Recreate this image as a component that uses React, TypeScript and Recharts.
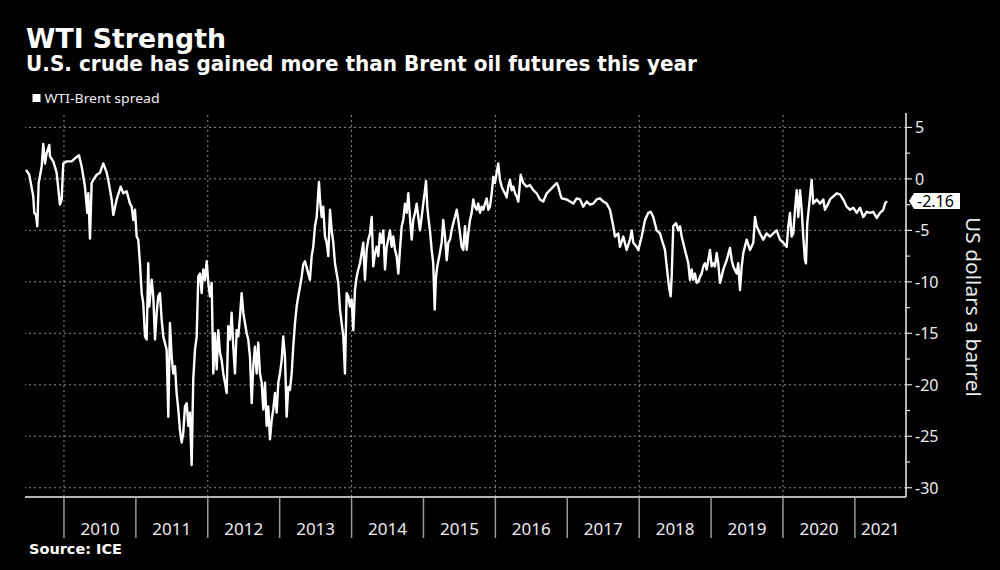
import React from 'react';
import { LineChart, Line, XAxis, YAxis, ReferenceLine } from 'recharts';

const dates = [
  2009.472, 2009.517, 2009.573, 2009.587, 2009.611, 2009.629, 2009.648, 2009.690, 2009.712, 2009.736,
  2009.759, 2009.796, 2009.805, 2009.851, 2009.898, 2009.944, 2009.968, 2009.990, 2010.038, 2010.107,
  2010.153, 2010.209, 2010.246, 2010.292, 2010.324, 2010.338, 2010.362, 2010.385, 2010.408, 2010.455,
  2010.501, 2010.547, 2010.594, 2010.616, 2010.663, 2010.686, 2010.733, 2010.789, 2010.825, 2010.872,
  2010.918, 2010.942, 2010.964, 2010.988, 2011.011, 2011.033, 2011.057, 2011.081, 2011.103, 2011.127,
  2011.150, 2011.172, 2011.186, 2011.220, 2011.242, 2011.266, 2011.289, 2011.312, 2011.335, 2011.359,
  2011.381, 2011.428, 2011.451, 2011.474, 2011.498, 2011.520, 2011.544, 2011.567, 2011.590, 2011.613,
  2011.637, 2011.659, 2011.683, 2011.707, 2011.729, 2011.752, 2011.776, 2011.798, 2011.822, 2011.846,
  2011.868, 2011.892, 2011.915, 2011.937, 2011.961, 2011.985, 2012.007, 2012.031, 2012.054, 2012.077,
  2012.100, 2012.124, 2012.146, 2012.170, 2012.193, 2012.216, 2012.239, 2012.263, 2012.285, 2012.309,
  2012.332, 2012.355, 2012.378, 2012.402, 2012.424, 2012.448, 2012.471, 2012.494, 2012.517, 2012.541,
  2012.563, 2012.587, 2012.611, 2012.633, 2012.656, 2012.680, 2012.702, 2012.726, 2012.750, 2012.772,
  2012.796, 2012.819, 2012.841, 2012.865, 2012.889, 2012.911, 2012.935, 2012.958, 2012.981, 2013.004,
  2013.028, 2013.050, 2013.074, 2013.097, 2013.120, 2013.143, 2013.167, 2013.189, 2013.213, 2013.236,
  2013.259, 2013.282, 2013.306, 2013.328, 2013.352, 2013.398, 2013.421, 2013.445, 2013.467, 2013.491,
  2013.515, 2013.547, 2013.561, 2013.584, 2013.606, 2013.630, 2013.654, 2013.676, 2013.700, 2013.723,
  2013.746, 2013.769, 2013.793, 2013.815, 2013.839, 2013.862, 2013.885, 2013.908, 2013.932, 2013.954,
  2013.978, 2014.001, 2014.024, 2014.047, 2014.071, 2014.093, 2014.117, 2014.163, 2014.186, 2014.210,
  2014.232, 2014.256, 2014.280, 2014.302, 2014.326, 2014.349, 2014.371, 2014.395, 2014.419, 2014.441,
  2014.465, 2014.488, 2014.510, 2014.534, 2014.558, 2014.580, 2014.604, 2014.627, 2014.650, 2014.673,
  2014.697, 2014.719, 2014.743, 2014.766, 2014.789, 2014.812, 2014.836, 2014.858, 2014.882, 2014.905,
  2014.928, 2014.951, 2014.975, 2014.997, 2015.021, 2015.035, 2015.053, 2015.067, 2015.090, 2015.114,
  2015.136, 2015.156, 2015.174, 2015.192, 2015.220, 2015.253, 2015.275, 2015.299, 2015.323, 2015.345,
  2015.369, 2015.392, 2015.414, 2015.438, 2015.462, 2015.484, 2015.508, 2015.531, 2015.554, 2015.577,
  2015.601, 2015.623, 2015.647, 2015.670, 2015.693, 2015.716, 2015.740, 2015.762, 2015.786, 2015.809,
  2015.832, 2015.855, 2015.879, 2015.901, 2015.925, 2015.949, 2015.971, 2015.994, 2016.018, 2016.040,
  2016.064, 2016.088, 2016.110, 2016.134, 2016.157, 2016.179, 2016.203, 2016.227, 2016.249, 2016.273,
  2016.296, 2016.319, 2016.352, 2016.388, 2016.435, 2016.481, 2016.527, 2016.574, 2016.620, 2016.666,
  2016.714, 2016.759, 2016.805, 2016.853, 2016.875, 2016.899, 2016.922, 2016.992, 2017.038, 2017.084,
  2017.131, 2017.177, 2017.223, 2017.270, 2017.316, 2017.362, 2017.409, 2017.455, 2017.501, 2017.548,
  2017.594, 2017.640, 2017.663, 2017.709, 2017.733, 2017.779, 2017.826, 2017.872, 2017.896, 2017.918,
  2017.965, 2017.988, 2018.035, 2018.081, 2018.127, 2018.160, 2018.196, 2018.243, 2018.289, 2018.327,
  2018.359, 2018.383, 2018.415, 2018.438, 2018.452, 2018.474, 2018.512, 2018.544, 2018.568, 2018.591,
  2018.637, 2018.683, 2018.707, 2018.730, 2018.752, 2018.776, 2018.800, 2018.822, 2018.846, 2018.869,
  2018.892, 2018.915, 2018.939, 2018.985, 2019.008, 2019.031, 2019.054, 2019.078, 2019.100, 2019.124,
  2019.147, 2019.170, 2019.217, 2019.263, 2019.287, 2019.309, 2019.356, 2019.378, 2019.402, 2019.426,
  2019.448, 2019.495, 2019.541, 2019.587, 2019.611, 2019.634, 2019.680, 2019.726, 2019.773, 2019.819,
  2019.865, 2019.912, 2019.958, 2020.004, 2020.052, 2020.074, 2020.097, 2020.121, 2020.143, 2020.167,
  2020.191, 2020.213, 2020.237, 2020.260, 2020.282, 2020.306, 2020.320, 2020.338, 2020.366, 2020.399,
  2020.421, 2020.469, 2020.515, 2020.561, 2020.584, 2020.630, 2020.654, 2020.700, 2020.747, 2020.793,
  2020.839, 2020.886, 2020.932, 2020.978, 2021.025, 2021.071, 2021.117, 2021.164, 2021.210, 2021.256,
  2021.303, 2021.349, 2021.395, 2021.419, 2021.446,
];

const spread = [
  0.87, 0.4, -1.7, -3.3, -3.5, -4.6, -0.4, 1.2, 3.4, 1.5,
  2.5, 3.3, 2.2, 1.7, 0.6, -2.5, -2.0, 1.5, 1.7, 1.7,
  2.0, 2.3, 1.2, -0.75, -3.3, -1.4, -5.8, -0.4, -0.1, 0.4,
  0.6, 1.5, 0.6, -0.1, -2.0, -3.5, -2.0, -0.75, -1.4, -1.2,
  -2.4, -2.7, -4.0, -3.0, -5.6, -5.9, -8.2, -11.1, -12.1, -15.3,
  -15.6, -8.2, -12.4, -9.8, -11.4, -15.6, -13.0, -11.4, -11.1, -13.7,
  -15.3, -16.6, -23.1, -14.0, -17.3, -18.9, -18.2, -20.8, -22.4, -24.4,
  -25.6, -24.7, -22.1, -21.8, -24.0, -22.7, -27.8, -19.5, -16.6, -15.3,
  -9.5, -9.2, -11.1, -8.8, -9.8, -8.0, -10.1, -11.4, -10.1, -18.9,
  -15.0, -18.5, -14.7, -16.9, -17.6, -18.9, -19.8, -20.8, -14.3, -15.6,
  -13.0, -16.3, -18.9, -14.7, -15.3, -13.4, -11.1, -13.0, -14.0, -15.0,
  -15.6, -17.3, -21.8, -18.2, -16.3, -18.9, -15.9, -18.9, -19.8, -22.4,
  -19.8, -24.0, -22.1, -25.3, -23.4, -22.4, -20.8, -22.7, -19.8, -18.9,
  -17.6, -15.3, -17.3, -23.1, -20.2, -20.5, -18.9, -16.3, -14.0, -12.4,
  -11.4, -10.5, -9.5, -8.3, -8.0, -9.2, -9.8, -7.5, -6.6, -4.6,
  -3.7, -0.3, -2.0, -3.7, -2.7, -5.6, -6.2, -7.5, -3.0, -5.0,
  -6.2, -8.2, -9.2, -10.1, -12.7, -14.0, -15.3, -18.9, -11.1, -11.4,
  -12.4, -11.7, -14.7, -10.8, -9.5, -8.8, -8.2, -6.2, -9.8, -6.9,
  -5.9, -5.3, -3.7, -8.5, -7.2, -6.6, -7.5, -5.3, -6.2, -5.0,
  -8.8, -6.6, -5.9, -5.0, -6.6, -5.6, -6.9, -7.5, -9.2, -6.9,
  -4.6, -4.0, -2.4, -3.3, -1.4, -3.7, -5.9, -4.0, -3.3, -2.4,
  -3.7, -5.0, -3.7, -2.4, -1.1, -0.2, -2.7, -3.7, -5.0, -6.9,
  -8.2, -12.7, -9.5, -8.5, -7.5, -6.2, -4.0, -5.6, -7.9, -6.2,
  -5.9, -5.0, -4.3, -3.7, -3.0, -4.0, -5.3, -6.6, -6.9, -4.6,
  -6.9, -5.3, -4.0, -3.3, -2.0, -2.7, -3.0, -2.4, -3.3, -2.7,
  -3.0, -2.4, -1.9, -3.0, -2.7, -1.4, 0.2, -0.4, 0.6, 1.5,
  -0.1, -0.75, -1.1, -1.4, -1.8, -0.75, -0.1, -1.1, -0.75, -1.4,
  -1.7, -2.2, 0.4, -0.4, -0.75, -0.6, -1.1, -1.4, -2.0, -2.2,
  -1.4, -1.1, -0.75, -0.4, -0.75, -1.4, -1.9, -2.0, -2.2, -2.4,
  -1.9, -2.0, -2.7, -2.2, -2.5, -2.4, -2.0, -1.9, -2.2, -2.4,
  -3.0, -4.6, -5.6, -5.3, -6.6, -5.6, -6.9, -5.9, -5.0, -6.2,
  -6.6, -6.9, -5.6, -4.0, -3.3, -3.2, -3.7, -5.0, -5.3, -6.2,
  -6.9, -8.5, -10.5, -11.4, -9.5, -4.6, -4.3, -5.0, -4.6, -5.6,
  -6.9, -8.2, -9.8, -8.8, -9.8, -9.2, -10.1, -10.0, -9.5, -9.2,
  -8.5, -8.2, -8.8, -6.9, -8.5, -8.2, -8.5, -7.2, -8.2, -10.1,
  -9.5, -8.8, -7.9, -6.7, -7.9, -8.5, -9.2, -8.2, -10.8, -8.5,
  -7.2, -5.9, -6.9, -6.2, -3.7, -4.6, -5.3, -5.9, -5.3, -5.6,
  -5.3, -5.0, -5.9, -6.2, -6.6, -4.6, -3.3, -5.6, -5.3, -3.0,
  -1.1, -3.7, -1.1, -3.0, -5.6, -7.9, -8.2, -4.3, -2.4, -0.1,
  -2.4, -2.0, -2.4, -2.0, -3.0, -2.4, -2.0, -1.7, -1.4, -1.5,
  -2.0, -2.7, -3.0, -2.8, -3.3, -2.8, -3.7, -3.2, -3.3, -3.2,
  -3.8, -3.3, -3.0, -2.4, -2.16,
];

const yearTicks = [2010, 2011, 2012, 2013, 2014, 2015, 2016, 2017, 2018, 2019, 2020, 2021];
const yearLabelPos = [2010.5, 2011.5, 2012.5, 2013.5, 2014.5, 2015.5, 2016.5, 2017.5, 2018.5, 2019.5, 2020.5, 2021.355];
const yearLabels = ['2010', '2011', '2012', '2013', '2014', '2015', '2016', '2017', '2018', '2019', '2020', '2021'];
const valueTicks = [5, 0, -5, -10, -15, -20, -25, -30];
const minorTicks = [2.5, -2.5, -7.5, -12.5, -17.5, -22.5, -27.5];
const gridYears = [2010, 2012, 2014, 2016, 2018, 2020];
const lastValue = -2.16;
const xDomain: [number, number] = [2009.458, 2021.711];
const yDomain: [number, number] = [-30.9, 6.4];

const data = dates.map((t, i) => ({ t, v: spread[i] }));

const xTicks = [...yearTicks, ...yearLabelPos].sort((a, b) => a - b);
const yTicks = [...valueTicks, ...minorTicks, lastValue].sort((a, b) => b - a);

const TEXT = '#ececec';
const SANS = "'Noto Sans', 'DejaVu Sans', sans-serif";
const BOLD = "'DejaVu Sans', Verdana, sans-serif";

const XTick = (props: any) => {
  const { x, y, payload } = props;
  const v = payload.value;
  if (yearTicks.includes(v)) {
    return <line x1={x} x2={x} y1={y} y2={y + 41} stroke="#9a9a9a" strokeWidth={1.5} />;
  }
  const idx = yearLabelPos.indexOf(v);
  if (idx < 0) return null;
  return (
    <text x={x} y={y + 38} textAnchor="middle" fill={TEXT} fontSize={17} fontFamily={SANS}>
      {yearLabels[idx]}
    </text>
  );
};

const YTick = (props: any) => {
  const { x, y, payload } = props;
  const v = payload.value;
  if (v === lastValue) {
    return (
      <g>
        <polygon
          points={`${x + 3},${y} ${x + 8},${y - 8} ${x + 54},${y - 8} ${x + 54},${y + 8} ${x + 8},${y + 8}`}
          fill="#ffffff"
        />
        <text x={x + 11} y={y + 6} fill="#000" fontSize={16} fontFamily={SANS}>
          {lastValue.toFixed(2)}
        </text>
      </g>
    );
  }
  if (minorTicks.includes(v)) {
    return <line x1={x} x2={x + 4} y1={y} y2={y} stroke="#ddd" strokeWidth={1.2} />;
  }
  return (
    <g>
      <line x1={x} x2={x + 6} y1={y} y2={y} stroke="#ddd" strokeWidth={1.2} />
      <text x={x + 9} y={y + 6} fill={TEXT} fontSize={16} fontFamily={SANS}>
        {v}
      </text>
    </g>
  );
};

export default function App() {
  return (
    <div
      style={{
        position: 'absolute',
        left: 0,
        top: 0,
        width: 1000,
        height: 570,
        background: '#000',
        overflow: 'hidden',
      }}
    >
      <LineChart
        width={1000}
        height={570}
        data={data}
        margin={{ top: 113, right: 19, bottom: 33, left: 25 }}
      >
        {valueTicks.map((v) => (
          <ReferenceLine key={'h' + v} y={v} stroke="#8c8c8c" strokeDasharray="2 3" strokeWidth={1} />
        ))}
        {gridYears.map((yr) => (
          <ReferenceLine key={'v' + yr} x={yr} stroke="#8c8c8c" strokeDasharray="2 3" strokeWidth={1} />
        ))}
        <XAxis
          dataKey="t"
          type="number"
          domain={xDomain}
          allowDataOverflow
          ticks={xTicks}
          interval={0}
          tickSize={0}
          tickMargin={0}
          tick={<XTick />}
          axisLine={{ stroke: '#f0f0f0', strokeWidth: 1.5 }}
          tickLine={false}
          height={40}
        />
        <YAxis
          orientation="right"
          type="number"
          domain={yDomain}
          allowDataOverflow
          ticks={yTicks}
          interval={0}
          tickSize={0}
          tickMargin={0}
          tick={<YTick />}
          axisLine={{ stroke: '#f0f0f0', strokeWidth: 1.5 }}
          tickLine={false}
          width={75}
        />
        <Line
          type="linear"
          dataKey="v"
          stroke="#ffffff"
          strokeWidth={2.4}
          strokeLinejoin="round"
          dot={false}
          isAnimationActive={false}
        />
      </LineChart>
      <svg
        width={1000}
        height={570}
        style={{ position: 'absolute', left: 0, top: 0, pointerEvents: 'none' }}
      >
        <text x={26} y={48} fill="#fff" fontSize={27} fontWeight="bold" fontFamily={BOLD} textLength={200} lengthAdjust="spacingAndGlyphs">
          WTI Strength
        </text>
        <text x={26} y={71} fill="#fff" fontSize={21} fontWeight="bold" fontFamily={BOLD} textLength={671} lengthAdjust="spacingAndGlyphs">
          U.S. crude has gained more than Brent oil futures this year
        </text>
        <rect x={32.5} y={94} width={8} height={8} fill="#fff" />
        <text x={44.5} y={103} fill={TEXT} fontSize={13} fontFamily={SANS} textLength={115} lengthAdjust="spacingAndGlyphs">
          WTI-Brent spread
        </text>
        <text
          x={973}
          y={307}
          fill={TEXT}
          fontSize={20}
          fontFamily={SANS}
          textAnchor="middle"
          dominantBaseline="central"
          transform="rotate(90 973 307)"
          textLength={180}
          lengthAdjust="spacingAndGlyphs"
        >
          US dollars a barrel
        </text>
        <text x={29} y={554} fill="#fff" fontSize={14} fontWeight="bold" fontFamily={BOLD} textLength={93} lengthAdjust="spacingAndGlyphs">
          Source: ICE
        </text>
      </svg>
    </div>
  );
}
